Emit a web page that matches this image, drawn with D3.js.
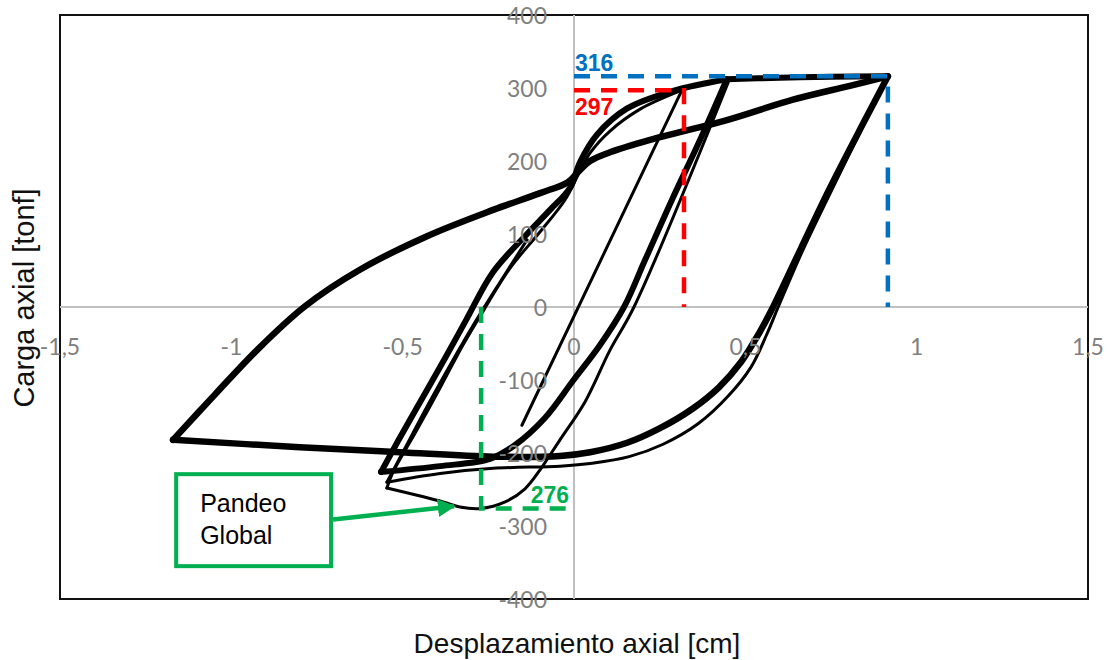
<!DOCTYPE html>
<html>
<head>
<meta charset="utf-8">
<script src="https://cdn.jsdelivr.net/npm/d3@7"></script>
<style>
  body { margin: 0; background: #fff; }
  svg { display: block; }
</style>
</head>
<body>
<script>
// axis ticks
var xTicks = [-1.5, -1, -0.5, 0, 0.5, 1, 1.5],
    yTicks = [-400, -300, -200, -100, 0, 100, 200, 300, 400];

// hysteresis branches, [desplazamiento axial cm, carga axial tonf]
var bigReload = [[-1.17, -182], [-1.048, -120], [-0.925, -59], [-0.785, 1],
  [-0.625, 51], [-0.429, 97], [-0.236, 133], [-0.099, 156], [-0.018, 171], [0.012, 185],
  [0.047, 200], [0.105, 212], [0.222, 229], [0.446, 256], [0.639, 284], [0.805, 303], [0.916, 316]];

var bigUnload = [[0.916, 316], [0.849, 256], [0.747, 163], [0.660, 78], [0.581, 0], [0.540, -36],
  [0.488, -75], [0.423, -110], [0.347, -139], [0.251, -166], [0.155, -186], [0.047, -199],
  [-0.041, -204], [-0.236, -205], [-0.508, -199], [-0.800, -192], [-1.17, -182]];

var midReload = [[-0.563, -226], [-0.514, -184], [-0.449, -130], [-0.376, -70], [-0.315, -18],
  [-0.236, 48], [-0.137, 100], [-0.070, 133], [-0.012, 163], [0.018, 199], [0.067, 236],
  [0.155, 272], [0.289, 296], [0.446, 312]];

var envelope = [[0.446, 312], [0.60, 314], [0.75, 315.5], [0.916, 316]];

var midUnload = [[0.446, 312], [0.368, 229], [0.286, 147], [0.207, 64], [0.146, 0], [0.076, -52],
  [-0.003, -101], [-0.085, -152], [-0.172, -189], [-0.245, -208], [-0.391, -218], [-0.563, -226]];

var bucklingBranch = [[0.452, 310], [0.175, 0], [0.105, -59], [0.032, -130], [-0.041, -182],
  [-0.099, -223], [-0.143, -249], [-0.201, -267], [-0.271, -276], [-0.333, -274], [-0.382, -267],
  [-0.546, -248]];

var firstReload = [[-0.546, -248], [-0.528, -226], [-0.464, -173], [-0.391, -111], [-0.324, -52],
  [-0.263, -4], [-0.187, 53], [-0.099, 103], [-0.026, 147], [0.012, 181], [0.047, 211],
  [0.105, 241], [0.193, 271], [0.315, 297]];

var firstUnload = [[0.315, 297], [-0.152, -162]];

var bigUnload2 = [[0.916, 316], [0.855, 259], [0.755, 163], [0.668, 78], [0.596, 0], [0.563, -37],
  [0.517, -82], [0.450, -122], [0.362, -160], [0.260, -188], [0.161, -205], [0.053, -214],
  [-0.041, -218], [-0.236, -221], [-0.391, -228], [-0.546, -240]];

var midReload2 = [[-0.546, -240], [-0.496, -196], [-0.426, -134], [-0.356, -75], [-0.289, -21],
  [-0.216, 34], [-0.137, 92]];

// annotated values
var peakTension = [0.916, 316],
    yieldTension = [0.321, 297],
    globalBuckling = [-0.271, -276];

// label box for "Pandeo Global" (data units) and arrow tip
var boxCorners = [[-1.161, -229], [-0.709, -355]],
    arrowFrom = [-0.709, -291],
    arrowTip = [-0.35, -273];

var width = 1115, height = 660,
    plot = { left: 60, right: 1088, top: 15, bottom: 599 };

var svg = d3.select("body").append("svg")
    .attr("width", width).attr("height", height);

var x = d3.scaleLinear().domain([-1.5, 1.5]).range([plot.left, plot.right]),
    y = d3.scaleLinear().domain([-400, 400]).range([plot.bottom, plot.top]);

// plot border
svg.append("rect")
    .attr("x", plot.left).attr("y", plot.top)
    .attr("width", plot.right - plot.left).attr("height", plot.bottom - plot.top)
    .attr("fill", "none").attr("stroke", "#111").attr("stroke-width", 2);

// axes crossing at zero
svg.append("line")
    .attr("x1", plot.left).attr("x2", plot.right)
    .attr("y1", y(0)).attr("y2", y(0))
    .attr("stroke", "#c0c0c0").attr("stroke-width", 2);
svg.append("line")
    .attr("x1", x(0)).attr("x2", x(0))
    .attr("y1", plot.top).attr("y2", plot.bottom)
    .attr("stroke", "#c0c0c0").attr("stroke-width", 2);

var lineFn = d3.line().x(d => x(d[0])).y(d => y(d[1])).curve(d3.curveCatmullRom.alpha(0.5));

var branches = [
  { data: bigUnload2, w: 3 },
  { data: midReload2, w: 3 },
  { data: bucklingBranch, w: 3 },
  { data: firstReload, w: 3 },
  { data: firstUnload, w: 3 },
  { data: bigReload, w: 6.5 },
  { data: bigUnload, w: 6.5 },
  { data: midReload, w: 6 },
  { data: envelope, w: 6 },
  { data: midUnload, w: 6 }
];

svg.append("g").selectAll("path")
    .data(branches).enter().append("path")
    .attr("d", d => lineFn(d.data))
    .attr("fill", "none").attr("stroke", "#000")
    .attr("stroke-width", d => d.w)
    .attr("stroke-linecap", "round").attr("stroke-linejoin", "round");

// tick labels (drawn above the curves, like the original)
var fmt = v => String(v).replace(".", ",");
svg.append("g").selectAll("text")
    .data(xTicks).enter().append("text")
    .attr("x", d => x(d)).attr("y", y(0) + 39)
    .attr("text-anchor", "middle").attr("dominant-baseline", "central")
    .style("font-family", "Lato, sans-serif").style("font-size", "23px")
    .style("fill", "#7f7f7f")
    .text(fmt);
svg.append("g").selectAll("text")
    .data(yTicks).enter().append("text")
    .attr("x", x(0) - 27).attr("y", d => y(d))
    .attr("text-anchor", "end").attr("dominant-baseline", "central")
    .style("font-family", "Lato, sans-serif").style("font-size", "23px")
    .style("fill", "#7f7f7f")
    .text(fmt);

// axis titles
svg.append("text")
    .attr("x", x(0) + 3).attr("y", 653)
    .attr("text-anchor", "middle")
    .style("font-family", "'Liberation Sans', Arial, sans-serif").style("font-size", "28px")
    .style("fill", "#111")
    .text("Desplazamiento axial [cm]");
svg.append("text")
    .attr("transform", "translate(34," + 298 + ") rotate(-90)")
    .attr("text-anchor", "middle")
    .style("font-family", "'Liberation Sans', Arial, sans-serif").style("font-size", "29px")
    .style("fill", "#111")
    .text("Carga axial [tonf]");

// dashed reference lines
function guide(pts, color) {
  svg.append("path")
      .attr("d", d3.line().x(d => x(d[0])).y(d => y(d[1]))(pts))
      .attr("fill", "none").attr("stroke", color).attr("stroke-width", 4.5)
      .attr("stroke-dasharray", "16,11");
}
guide([[0, peakTension[1]], peakTension, [peakTension[0], 0]], "#0070C0");
guide([[0, yieldTension[1]], yieldTension, [yieldTension[0], 0]], "#FF0000");
guide([[globalBuckling[0], 0], globalBuckling, [0, globalBuckling[1]]], "#00B050");

function valueLabel(txt, px, py, anchor, color) {
  svg.append("text")
      .attr("x", px).attr("y", py).attr("text-anchor", anchor)
      .style("font-family", "'Liberation Sans', Arial, sans-serif")
      .style("font-size", "23px").style("font-weight", "bold")
      .style("fill", color)
      .text(txt);
}
valueLabel(peakTension[1], x(0) + 1, y(peakTension[1]) - 5, "start", "#0070C0");
valueLabel(yieldTension[1], x(0) + 1, y(yieldTension[1]) + 25, "start", "#FF0000");
valueLabel(Math.abs(globalBuckling[1]), x(0) - 5, y(globalBuckling[1]) - 5, "end", "#00B050");

// "Pandeo Global" callout
var bx0 = x(boxCorners[0][0]), by0 = y(boxCorners[0][1]),
    bx1 = x(boxCorners[1][0]), by1 = y(boxCorners[1][1]);
svg.append("rect")
    .attr("x", bx0).attr("y", by0).attr("width", bx1 - bx0).attr("height", by1 - by0)
    .attr("fill", "#fff").attr("stroke", "#00B050").attr("stroke-width", 4);
svg.append("text")
    .attr("x", bx0 + 24).attr("y", by0 + 38)
    .style("font-family", "'Liberation Sans', Arial, sans-serif").style("font-size", "25px")
    .style("fill", "#000")
    .text("Pandeo");
svg.append("text")
    .attr("x", bx0 + 24).attr("y", by0 + 70)
    .style("font-family", "'Liberation Sans', Arial, sans-serif").style("font-size", "25px")
    .style("fill", "#000")
    .text("Global");

svg.append("defs").append("marker")
    .attr("id", "arrow").attr("viewBox", "0 0 10 10")
    .attr("refX", 9).attr("refY", 5)
    .attr("markerWidth", 4).attr("markerHeight", 4)
    .attr("markerUnits", "strokeWidth")
    .attr("orient", "auto")
  .append("path").attr("d", "M0,0L10,5L0,10Z").attr("fill", "#00B050");
svg.append("line")
    .attr("x1", x(arrowFrom[0]) + 2).attr("y1", y(arrowFrom[1]))
    .attr("x2", x(arrowTip[0])).attr("y2", y(arrowTip[1]))
    .attr("stroke", "#00B050").attr("stroke-width", 4.5)
    .attr("marker-end", "url(#arrow)");
</script>
</body>
</html>
